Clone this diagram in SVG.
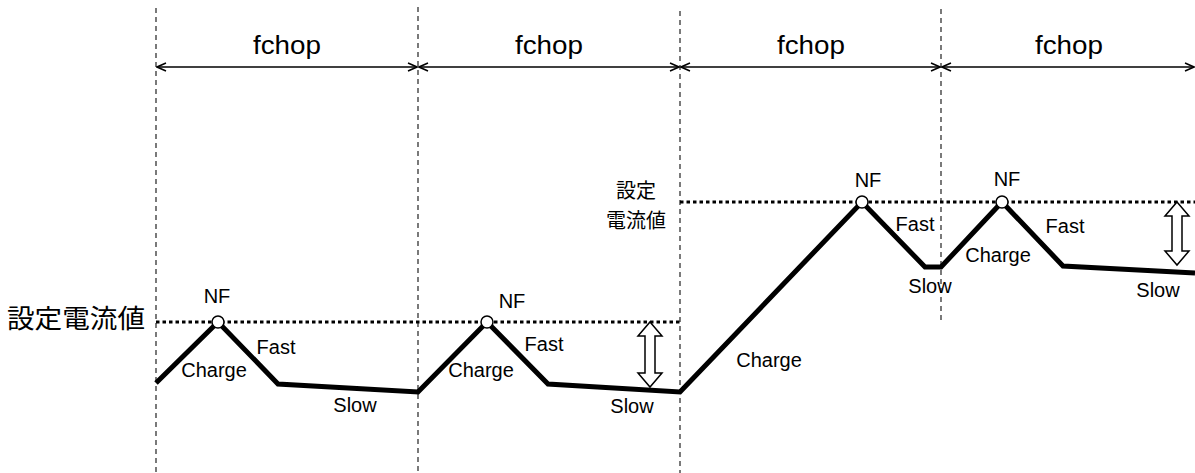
<svg xmlns="http://www.w3.org/2000/svg" width="1195" height="473" viewBox="0 0 1195 473">
<defs>
<marker id="chev" viewBox="-11 -6 12 12" markerWidth="12" markerHeight="12" refX="0" refY="0" orient="auto-start-reverse" markerUnits="userSpaceOnUse">
<path d="M-9,-4 L0,0 L-9,4" fill="none" stroke="#000" stroke-width="1.5"/>
</marker>
<style>
.vdash{stroke:#222;stroke-width:1.2;stroke-dasharray:5 4;fill:none}
.dot{stroke:#000;stroke-width:3.2;stroke-dasharray:3.5 3;fill:none}
.dim{stroke:#000;stroke-width:1.5;fill:none}
.wave{stroke:#000;stroke-width:5;fill:none;stroke-linejoin:miter;stroke-miterlimit:2}
.nf{fill:#fff;stroke:#000;stroke-width:1.5}
.hollow{fill:#fff;stroke:#000;stroke-width:1.5;stroke-linejoin:miter}
.lbl{font-family:"Liberation Sans",Arial,sans-serif;font-size:20px;fill:#000;text-anchor:middle}
.big{font-family:"Liberation Sans",Arial,sans-serif;font-size:25px;fill:#000;text-anchor:middle}
.cjk{font-family:"Liberation Sans","Noto Sans CJK JP",sans-serif;fill:#000}
</style>
</defs>
<g id="gridlines">
<line class="vdash" x1="156" y1="8" x2="156" y2="473"/>
<line class="vdash" x1="418" y1="7" x2="418" y2="473"/>
<line class="vdash" x1="680" y1="11" x2="680" y2="473"/>
<line class="vdash" x1="941" y1="9" x2="941" y2="322"/>
</g>
<g id="levels">
<line class="dot" x1="156" y1="322" x2="680" y2="322"/>
<line class="dot" x1="680" y1="202" x2="1195" y2="202"/>
</g>
<g id="connectors">
<line class="dim" x1="157" y1="67" x2="417" y2="67" marker-start="url(#chev)" marker-end="url(#chev)"/>
<line class="dim" x1="419" y1="67" x2="679" y2="67" marker-start="url(#chev)" marker-end="url(#chev)"/>
<line class="dim" x1="681" y1="67" x2="940" y2="67" marker-start="url(#chev)" marker-end="url(#chev)"/>
<line class="dim" x1="942" y1="67" x2="1194" y2="67" marker-start="url(#chev)" marker-end="url(#chev)"/>
</g>
<g id="waveform">
<polyline class="wave" points="156,383 218,322 278,384 418,392 487,322 548,384 680,392 862,202 925,267 941,267 1002,202 1063,266 1195,273"/>
</g>
<g id="nf-points">
<circle class="nf" cx="218" cy="322" r="6"/>
<circle class="nf" cx="487" cy="322" r="6"/>
<circle class="nf" cx="862" cy="202" r="6"/>
<circle class="nf" cx="1002" cy="202" r="6"/>
</g>
<g id="ripple-arrows">
<path class="hollow" d="M650,322 L662,336 L655,336 L655,373 L662,373 L650,387 L638,373 L645,373 L645,336 L638,336 Z"/>
<path class="hollow" d="M1177,202 L1189,216 L1182,216 L1182,251 L1189,251 L1177,265 L1165,251 L1172,251 L1172,216 L1165,216 Z"/>
</g>
<g id="labels">
<text class="big" x="287" y="54" textLength="68" lengthAdjust="spacingAndGlyphs">fchop</text>
<text class="big" x="549" y="54" textLength="68" lengthAdjust="spacingAndGlyphs">fchop</text>
<text class="big" x="811" y="54" textLength="68" lengthAdjust="spacingAndGlyphs">fchop</text>
<text class="big" x="1069" y="54" textLength="68" lengthAdjust="spacingAndGlyphs">fchop</text>
<text class="cjk" x="7" y="328" font-size="26" textLength="138" lengthAdjust="spacingAndGlyphs">設定電流値</text>
<text class="cjk" x="636" y="198" font-size="20" text-anchor="middle">設定</text>
<text class="cjk" x="636" y="228" font-size="20" text-anchor="middle">電流値</text>
<text class="lbl" x="217" y="303">NF</text>
<text class="lbl" x="214" y="377">Charge</text>
<text class="lbl" x="276" y="354">Fast</text>
<text class="lbl" x="355" y="412">Slow</text>
<text class="lbl" x="512" y="308">NF</text>
<text class="lbl" x="481" y="377">Charge</text>
<text class="lbl" x="544" y="351">Fast</text>
<text class="lbl" x="632" y="413">Slow</text>
<text class="lbl" x="769" y="367">Charge</text>
<text class="lbl" x="868" y="187">NF</text>
<text class="lbl" x="915" y="231">Fast</text>
<text class="lbl" x="930" y="293">Slow</text>
<text class="lbl" x="1007" y="186">NF</text>
<text class="lbl" x="998" y="262">Charge</text>
<text class="lbl" x="1065" y="233">Fast</text>
<text class="lbl" x="1158" y="297">Slow</text>
</g>
</svg>
